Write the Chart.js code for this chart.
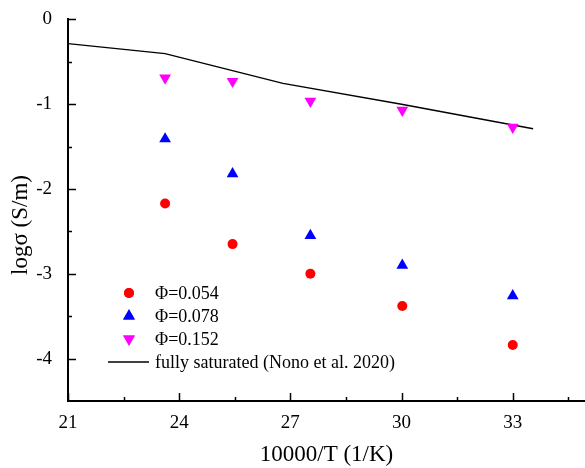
<!DOCTYPE html>
<html>
<head>
<meta charset="utf-8">
<script src="https://cdn.jsdelivr.net/npm/chart.js@4/dist/chart.umd.min.js"></script>
<style>
    html, body { margin: 0; padding: 0; background: #fff; }
</style>
</head>
<body>
<canvas id="chart" width="585" height="468"></canvas>
<script>
// values
const tempX = [23.62, 25.44, 27.54, 30.02, 33.0];
const phi054 = [-2.17, -2.65, -3.00, -3.38, -3.84];
const phi078 = [-1.41, -1.82, -2.55, -2.90, -3.26];
const phi152 = [-0.69, -0.73, -0.965, -1.07, -1.27];
const satX = [21, 23.62, 26.8, 30.0, 33.55];
const satY = [-0.286, -0.403, -0.755, -1.0, -1.29];
const seriesLabels = ['Φ=0.054', 'Φ=0.078', 'Φ=0.152', 'fully saturated (Nono et al. 2020)'];
const xTitle = '10000/T (1/K)';
const yTitle = 'logσ (S/m)';

const FONT = '"Liberation Serif", "Times New Roman", serif';

const toPoints = (xs, ys) => xs.map((v, i) => ({ x: v, y: ys[i] }));

// inward ticks, axis titles and the legend inside the plot
const decorations = {
    id: 'decorations',
    afterDraw(chart) {
        const ctx = chart.ctx;
        const a = chart.chartArea;
        const xs = chart.scales.x;
        const ys = chart.scales.y;
        ctx.save();
        ctx.strokeStyle = '#000';
        ctx.lineWidth = 1.5;
        ctx.beginPath();
        xs.ticks.forEach(t => {
            const px = Math.round(xs.getPixelForValue(t.value)) + 0.5;
            ctx.moveTo(px, a.bottom);
            ctx.lineTo(px, a.bottom - 8);
            const m = Math.round(xs.getPixelForValue(t.value + 1.5)) + 0.5;
            if (m < a.right) {
                ctx.moveTo(m, a.bottom);
                ctx.lineTo(m, a.bottom - 4);
            }
        });
        ys.ticks.forEach(t => {
            const py = Math.round(ys.getPixelForValue(t.value)) + 0.5;
            ctx.moveTo(a.left, py);
            ctx.lineTo(a.left + 8, py);
            const m = Math.round(ys.getPixelForValue(t.value - 0.5)) + 0.5;
            if (m < a.bottom - 2) {
                ctx.moveTo(a.left, m);
                ctx.lineTo(a.left + 4, m);
            }
        });
        ctx.stroke();

        // axis titles
        ctx.fillStyle = '#000';
        ctx.font = '23px ' + FONT;
        ctx.textAlign = 'center';
        ctx.textBaseline = 'middle';
        ctx.fillText(xTitle, (a.left + a.right) / 2, 455);
        ctx.translate(21, 225);
        ctx.rotate(-Math.PI / 2);
        ctx.fillText(yTitle, 0, 0);
        ctx.setTransform(1, 0, 0, 1, 0, 0);

        // legend
        ctx.font = '18px ' + FONT;
        ctx.textAlign = 'left';
        const rowY = [293, 316, 339, 362];
        chart.data.datasets.forEach((ds, i) => {
            const yy = rowY[i];
            if (ds.showLine) {
                ctx.strokeStyle = ds.borderColor;
                ctx.lineWidth = ds.borderWidth;
                ctx.beginPath();
                ctx.moveTo(108, yy);
                ctx.lineTo(149, yy);
                ctx.stroke();
            } else {
                ctx.fillStyle = ds.backgroundColor;
                Chart.helpers.drawPoint(ctx, {
                    pointStyle: ds.pointStyle,
                    radius: ds.pointRadius,
                    rotation: ds.pointRotation || 0,
                    borderWidth: 0
                }, 129, yy);
                ctx.fill();
            }
            ctx.fillStyle = '#000';
            ctx.fillText(ds.label, 155, yy + 1);
        });
        ctx.restore();
    }
};

new Chart(document.getElementById('chart').getContext('2d'), {
    type: 'scatter',
    data: {
        datasets: [
            {
                label: seriesLabels[0],
                data: toPoints(tempX, phi054),
                pointStyle: 'circle',
                pointRadius: 5,
                backgroundColor: '#ff0000',
                borderColor: '#ff0000',
                borderWidth: 0
            },
            {
                label: seriesLabels[1],
                data: toPoints(tempX, phi078),
                pointStyle: 'triangle',
                pointRadius: 6.8,
                backgroundColor: '#0000ff',
                borderColor: '#0000ff',
                borderWidth: 0
            },
            {
                label: seriesLabels[2],
                data: toPoints(tempX, phi152),
                pointStyle: 'triangle',
                pointRotation: 180,
                pointRadius: 6.8,
                backgroundColor: '#ff00ff',
                borderColor: '#ff00ff',
                borderWidth: 0
            },
            {
                label: seriesLabels[3],
                data: toPoints(satX, satY),
                showLine: true,
                pointRadius: 0,
                borderColor: '#000000',
                backgroundColor: '#000000',
                borderWidth: 1.4,
                fill: false
            }
        ]
    },
    options: {
        responsive: false,
        animation: false,
        devicePixelRatio: 1,
        layout: { autoPadding: false, padding: { top: 18, left: 0, right: 0, bottom: 0 } },
        plugins: {
            legend: { display: false },
            tooltip: { enabled: false }
        },
        scales: {
            x: {
                type: 'linear',
                min: 21,
                max: 34.95,
                grid: { display: false },
                border: { display: true, color: '#000', width: 2 },
                ticks: {
                    stepSize: 3,
                    includeBounds: false,
                    padding: 3,
                    color: '#000',
                    font: { family: FONT, size: 19 }
                },
                afterFit(scale) { scale.height = 67; }
            },
            y: {
                type: 'linear',
                min: -4.5,
                max: 0,
                grid: { display: false },
                border: { display: true, color: '#000', width: 2 },
                ticks: {
                    stepSize: 1,
                    includeBounds: false,
                    padding: 8,
                    color: '#000',
                    font: { family: FONT, size: 19 }
                },
                afterFit(scale) { scale.width = 68; }
            }
        }
    },
    plugins: [decorations]
});
</script>
</body>
</html>
